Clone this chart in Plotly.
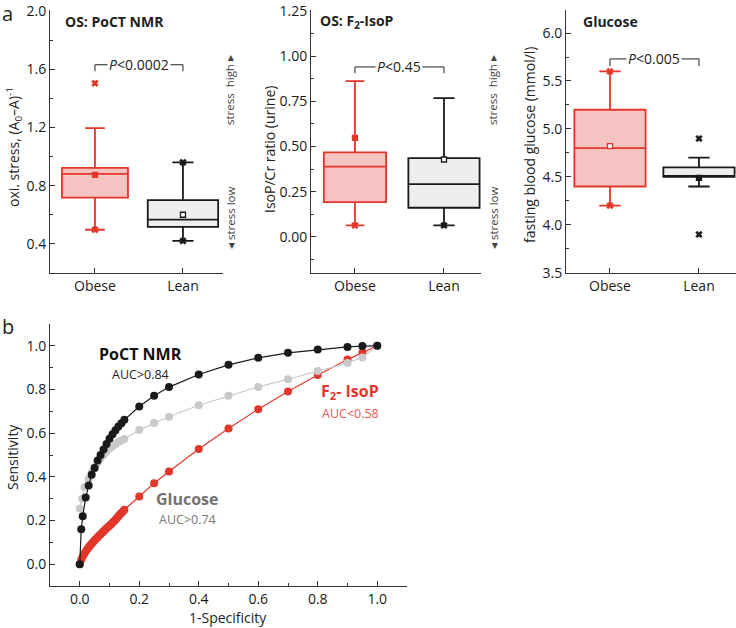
import plotly.graph_objects as go

W, H = 736, 628
FONT = "Open Sans"
RED = "#e3362a"
RED_FILL = "#f5c4c2"
GRAY_FILL = "#eeeeee"
BLK = "#1a1a1a"
ROC_GRAY = "#c9c9c9"

groups = ["Obese", "Lean"]

# Panel a1: OS PoCT NMR
nmr_q1 = [0.717, 0.517]
nmr_med = [0.880, 0.567]
nmr_q3 = [0.922, 0.700]
nmr_lo = [0.497, 0.420]
nmr_hi = [1.195, 0.960]
nmr_mean = [0.874, 0.600]
nmr_x_low = [0.497, 0.420]
nmr_x_high = [1.503, 0.960]

# Panel a2: F2-IsoP
iso_q1 = [0.192, 0.161]
iso_med = [0.388, 0.292]
iso_q3 = [0.467, 0.435]
iso_lo = [0.063, 0.063]
iso_hi = [0.862, 0.767]
iso_mean = [0.548, 0.428]
iso_x_low = [0.063, 0.063]

# Panel a3: Glucose
glu_q1 = [4.40, 4.50]
glu_med = [4.80, 4.50]
glu_q3 = [5.20, 4.60]
glu_lo = [4.20, 4.40]
glu_hi = [5.60, 4.70]
glu_mean = [4.82, 4.49]
glu_x = [[4.20, 5.60], [3.90, 4.90]]

# Panel b: ROC curves
nmr_fpr = [0, 0.005, 0.01, 0.02, 0.03, 0.04, 0.05, 0.06, 0.07, 0.08, 0.09, 0.10, 0.11, 0.12, 0.13, 0.14, 0.15,
           0.2, 0.25, 0.3, 0.4, 0.5, 0.6, 0.7, 0.8, 0.9, 0.95, 1.0]
nmr_tpr = [0.0, 0.16, 0.22, 0.305, 0.36, 0.41, 0.44, 0.475, 0.50, 0.525, 0.55, 0.575, 0.595, 0.613, 0.63, 0.645, 0.661,
           0.722, 0.771, 0.811, 0.869, 0.913, 0.945, 0.968, 0.983, 0.995, 0.999, 1.0]
glu_fpr = [0.0, 0.008, 0.016, 0.03, 0.04, 0.05, 0.06, 0.07, 0.08, 0.09, 0.10, 0.11, 0.12, 0.13, 0.14, 0.15,
           0.2, 0.25, 0.3, 0.4, 0.5, 0.6, 0.7, 0.8, 0.9, 0.95, 1.0]
glu_tpr = [0.255, 0.30, 0.354, 0.39, 0.42, 0.445, 0.465, 0.485, 0.50, 0.515, 0.53, 0.54, 0.55, 0.56, 0.567, 0.573,
           0.614, 0.646, 0.675, 0.728, 0.771, 0.812, 0.847, 0.885, 0.921, 0.947, 1.0]
iso_fpr = [0, 0.005, 0.01, 0.015, 0.02, 0.025, 0.03, 0.035, 0.04, 0.045, 0.05, 0.055, 0.06, 0.065, 0.07, 0.075,
           0.08, 0.085, 0.09, 0.095, 0.10, 0.105, 0.11, 0.115, 0.12, 0.125, 0.13, 0.135, 0.14, 0.145, 0.15,
           0.2, 0.25, 0.3, 0.4, 0.5, 0.6, 0.7, 0.8, 0.9, 0.95, 1.0]
iso_tpr = [0, 0.02, 0.035, 0.048, 0.058, 0.068, 0.077, 0.086, 0.094, 0.102, 0.109, 0.116, 0.123, 0.130, 0.137, 0.144,
           0.151, 0.158, 0.164, 0.170, 0.176, 0.183, 0.190, 0.197, 0.204, 0.211, 0.219, 0.227, 0.234, 0.241, 0.249,
           0.31, 0.371, 0.424, 0.527, 0.621, 0.71, 0.791, 0.866, 0.937, 0.969, 1.0]


def px(x):
    return x / W


def py(y):
    return 1 - y / H


fig = go.Figure()

colors = [RED, BLK]
fills = [RED_FILL, GRAY_FILL]
widths_by_panel = {"x": [0.75, 0.8], "x2": [0.7, 0.8], "x3": [0.8, 0.8]}


def add_boxes(xa, ya, q1, med, q3, lo, hi):
    for i in range(2):
        fig.add_trace(go.Box(
            x=[i], q1=[q1[i]], median=[med[i]], q3=[q3[i]], lowerfence=[lo[i]], upperfence=[hi[i]],
            width=widths_by_panel[xa][i], whiskerwidth=0.3, boxpoints=False,
            line=dict(color=colors[i], width=1.8), fillcolor=fills[i],
            xaxis=xa, yaxis=ya, showlegend=False, hoverinfo="skip"))


def add_marks(xa, ya, xs, ys, color, symbol, size, filled=True, lw=1.3):
    fig.add_trace(go.Scatter(
        x=xs, y=ys, mode="markers", xaxis=xa, yaxis=ya, showlegend=False, hoverinfo="skip",
        marker=dict(symbol=symbol, size=size, color=color if filled else "white",
                    line=dict(color=color, width=lw))))


# a1
add_boxes("x", "y", nmr_q1, nmr_med, nmr_q3, nmr_lo, nmr_hi)
add_marks("x", "y", [0], [nmr_mean[0]], RED, "square", 5)
add_marks("x", "y", [1], [nmr_mean[1]], BLK, "square", 5, filled=False)
add_marks("x", "y", [0, 0], [nmr_x_low[0], nmr_x_high[0]], RED, "x", 6, lw=0.5)
add_marks("x", "y", [1, 1], [nmr_x_low[1], nmr_x_high[1]], BLK, "x", 6, lw=0.5)

# a2
add_boxes("x2", "y2", iso_q1, iso_med, iso_q3, iso_lo, iso_hi)
add_marks("x2", "y2", [0], [iso_mean[0]], RED, "square", 5)
add_marks("x2", "y2", [1], [iso_mean[1]], BLK, "square", 5, filled=False)
add_marks("x2", "y2", [0], [iso_x_low[0]], RED, "x", 6, lw=0.5)
add_marks("x2", "y2", [1], [iso_x_low[1]], BLK, "x", 6, lw=0.5)

# a3
add_boxes("x3", "y3", glu_q1, glu_med, glu_q3, glu_lo, glu_hi)
add_marks("x3", "y3", [0], [glu_mean[0]], RED, "square", 5, filled=False)
add_marks("x3", "y3", [1], [glu_mean[1]], BLK, "square", 5)
add_marks("x3", "y3", [0, 0], glu_x[0], RED, "x", 6, lw=0.5)
add_marks("x3", "y3", [1, 1], glu_x[1], BLK, "x", 6, lw=0.5)

# b: ROC
for fx, ty, col in [(iso_fpr, iso_tpr, RED), (glu_fpr, glu_tpr, ROC_GRAY), (nmr_fpr, nmr_tpr, BLK)]:
    fig.add_trace(go.Scatter(
        x=fx, y=ty, mode="lines+markers", xaxis="x4", yaxis="y4", showlegend=False, hoverinfo="skip",
        line=dict(color=col, width=1.2), marker=dict(color=col, size=8)))

ydom_a = [py(273), py(10)]
tickfont = dict(family=FONT, size=14, color="#1a1a1a")


def xax(dom, rng):
    return dict(domain=dom, range=rng, tickvals=[0, 1], ticktext=groups, ticks="inside", ticklen=5,
                showline=True, linecolor="#333", linewidth=1, showgrid=False, zeroline=False,
                tickfont=tickfont, tickcolor="#333")


def yax(dom, rng, dtick, t0, minor_dtick, fmt, anchor):
    return dict(domain=dom, range=rng, dtick=dtick, tick0=t0, ticks="inside", ticklen=5, tickformat=fmt,
                showline=True, linecolor="#333", linewidth=1, showgrid=False, zeroline=False,
                tickfont=tickfont, tickcolor="#333", anchor=anchor,
                minor=dict(dtick=minor_dtick, tick0=t0, ticks="inside", ticklen=3, tickcolor="#333"))


fig.update_layout(
    width=W, height=H, margin=dict(l=0, r=0, t=0, b=0, autoexpand=False),
    paper_bgcolor="white", plot_bgcolor="white",
    font=dict(family=FONT, color="#222"),
    xaxis=xax([px(50), px(223)], [-0.511, 1.455]) | dict(anchor="y"),
    yaxis=yax(ydom_a, [0.2, 2.006], 0.4, 0.4, 0.2, ".1f", "x"),
    xaxis2=xax([px(311), px(481)], [-0.494, 1.416]) | dict(anchor="y2"),
    yaxis2=yax(ydom_a, [-0.2, 1.255], 0.25, 0, 0.125, ".2f", "x2"),
    xaxis3=xax([px(566), px(736)], [-0.494, 1.416]) | dict(anchor="y3"),
    yaxis3=yax(ydom_a, [3.498, 6.24], 0.5, 3.5, 0.25, ".1f", "x3"),
    xaxis4=dict(domain=[px(50), px(407)], range=[-0.1, 1.1], dtick=0.2, tick0=0, tickformat=".1f",
                ticks="inside", ticklen=5, showline=True, linecolor="#333", linewidth=1, showgrid=False,
                zeroline=False, tickfont=tickfont, tickcolor="#333", anchor="y4",
                minor=dict(dtick=0.1, tick0=0, ticks="inside", ticklen=3, tickcolor="#333")),
    yaxis4=dict(domain=[py(586), py(324)], range=[-0.1, 1.1], dtick=0.2, tick0=0, tickformat=".1f",
                ticks="inside", ticklen=5, showline=True, linecolor="#333", linewidth=1, showgrid=False,
                zeroline=False, tickfont=tickfont, tickcolor="#333", anchor="x4",
                minor=dict(dtick=0.1, tick0=0, ticks="inside", ticklen=3, tickcolor="#333")),
)

ann = []


def note(x, y, text, size=13, color="#222", angle=0, xanchor="center", yanchor="middle", bg=None):
    d = dict(x=px(x), y=py(y), xref="paper", yref="paper", text=text, showarrow=False, textangle=angle,
             font=dict(family=FONT, size=size, color=color), xanchor=xanchor, yanchor=yanchor)
    if bg:
        d["bgcolor"] = bg
    ann.append(d)


# panel letters
note(0, 13, "a", size=20, xanchor="left")
note(0, 326, "b", size=20, xanchor="left")

# panel titles
note(63, 22, "<b>OS: PoCT NMR</b>", size=14, xanchor="left")
note(318, 22, "<b>OS: F<sub>2</sub>-IsoP</b>", size=14, xanchor="left")
note(581, 21, "<b>Glucose</b>", size=14, xanchor="left")

# y axis titles
note(14, 147, "oxi. stress, (A<sub>0</sub>–A)<sup>-1</sup>", size=14, angle=-90)
note(269, 150, "IsoP/Cr ratio (urine)", size=14, angle=-90)
note(529, 145, "fasting blood glucose (mmol/l)", size=14, angle=-90)

# stress side labels
for sx in (230, 493):
    note(sx, 90, "stress  high ▸", size=11.5, color="#444", angle=-90)
    note(sx, 218, "◂ stress low", size=11.5, color="#444", angle=-90)

# p-value brackets
shapes = []
brackets = [("x", "y", 1.63, 1.585, "<i>P</i>&lt;0.0002"),
            ("x2", "y2", 0.94, 0.905, "<i>P</i>&lt;0.45"),
            ("x3", "y3", 5.73, 5.655, "<i>P</i>&lt;0.005")]
for xa, ya, top, bot, txt in brackets:
    line = dict(color="#222", width=1)
    shapes.append(dict(type="line", xref=xa, yref=ya, x0=0, x1=1, y0=top, y1=top, line=line))
    shapes.append(dict(type="line", xref=xa, yref=ya, x0=0, x1=0, y0=top, y1=bot, line=line))
    shapes.append(dict(type="line", xref=xa, yref=ya, x0=1, x1=1, y0=top, y1=bot, line=line))
    ann.append(dict(x=0.5, y=top, xref=xa, yref=ya, text=txt, showarrow=False, bgcolor="white",
                    font=dict(family=FONT, size=14, color="#222"), borderpad=1))

# ROC labels
note(140, 354, "<b>PoCT NMR</b>", size=16, color="#111")
note(140, 374, "AUC>0.84", size=12.5, color="#222")
note(350, 391, "<b>F<sub>2</sub>- IsoP</b>", size=16, color=RED)
note(350, 413, "AUC<0.58", size=12.5, color="#e8584c")
note(187, 499, "<b>Glucose</b>", size=16, color="#727272")
note(187, 519, "AUC>0.74", size=12.5, color="#777777")

# ROC axis titles
note(12, 457, "Sensitivity", size=14, angle=-90)
note(228, 617, "1-Specificity", size=14)

fig.update_layout(annotations=ann, shapes=shapes)
fig.write_html("out.html", config={"displayModeBar": False},
               post_script="document.body.style.margin='0';document.body.style.padding='0';")
